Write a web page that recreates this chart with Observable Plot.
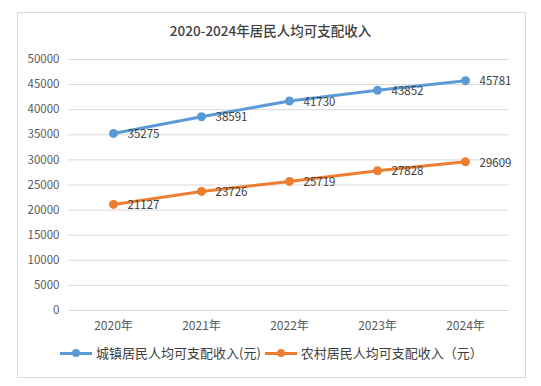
<!DOCTYPE html>
<html><head><meta charset="utf-8">
<script src="https://cdn.jsdelivr.net/npm/d3@7"></script>
<script src="https://cdn.jsdelivr.net/npm/@observablehq/plot@0.6"></script>
<style>
body{margin:0;background:#fff;font-family:"Noto Sans CJK SC","DejaVu Sans",sans-serif;}
#wrap{position:relative;width:541px;height:386px;overflow:hidden;}
#frame{position:absolute;left:17px;top:12px;width:507px;height:364px;border:1px solid #d9d9d9;}
#title{position:absolute;left:0;width:541px;top:20px;text-align:center;font-size:13.5px;color:#404040;font-weight:500;}
#chart{position:absolute;left:0;top:0;}
#legend{position:absolute;top:343px;left:60px;font-size:13px;color:#404040;display:flex;align-items:center;white-space:nowrap;}
.sw{display:inline-block;position:relative;width:32px;height:12px;margin-right:4px;}
.sw i{position:absolute;left:0;right:0;top:5px;height:3px;}
.sw b{position:absolute;left:12px;top:2px;width:8px;height:8px;border-radius:50%;}
</style></head>
<body>
<div id="wrap">
<div id="frame"></div>
<div id="title">2020-2024年居民人均可支配收入</div>
<div id="chart"></div>
<div id="legend"></div>
</div>
<script>
const years = ["2020年","2021年","2022年","2023年","2024年"];
const urban = [35275, 38591, 41730, 43852, 45781];
const rural = [21127, 23726, 25719, 27828, 29609];
const seriesNames = ["城镇居民人均可支配收入(元)", "农村居民人均可支配收入（元）"];
const colors = ["#5b9bd5", "#ed7d31"];
const yTicks = [0,5000,10000,15000,20000,25000,30000,35000,40000,45000,50000];

const data = [];
years.forEach((y,i)=>{
  data.push({year:y, value:urban[i], s:seriesNames[0]});
  data.push({year:y, value:rural[i], s:seriesNames[1]});
});

const plot = Plot.plot({
  width: 541, height: 340,
  marginLeft: 68, marginRight: 32, marginTop: 59, marginBottom: 30,
  style: {fontFamily: '"Noto Sans CJK SC","DejaVu Sans",sans-serif', fontSize: "11px", color: "#595959", background: "transparent"},
  x: {type: "point", domain: years, padding: 0.5, label: null},
  y: {domain: [0, 50000], label: null},
  color: {domain: seriesNames, range: colors},
  marks: [
    Plot.gridY(yTicks.filter(d=>d>0), {stroke: "#d9d9d9", strokeOpacity: 1, strokeWidth: 1}),
    Plot.ruleY([0], {stroke: "#d9d9d9", strokeWidth: 1}),
    Plot.axisY({ticks: yTicks, tickSize: 0, tickPadding: 9, tickFormat: d => String(d), fill: "#595959", fontSize: 11.5}),
    Plot.axisX({tickSize: 0, tickPadding: 11, fill: "#595959", fontSize: 12}),
    Plot.line(data, {x: "year", y: "value", z: "s", stroke: "s", strokeWidth: 3}),
    Plot.dot(data, {x: "year", y: "value", fill: "s", r: 4.5}),
    Plot.text(data, {x: "year", y: "value", text: d => String(d.value), dx: 14, dy: 1, textAnchor: "start", fill: "#404040", fontSize: 11.5})
  ]
});
document.getElementById("chart").appendChild(plot);

const lg = document.getElementById("legend");
seriesNames.forEach((n,i)=>{
  const sw = document.createElement("span"); sw.className="sw";
  sw.innerHTML = `<i style="background:${colors[i]}"></i><b style="background:${colors[i]}"></b>`;
  lg.appendChild(sw);
  const t = document.createElement("span"); t.textContent = n; t.style.marginRight = "4px";
  lg.appendChild(t);
});
</script>
</body></html>
